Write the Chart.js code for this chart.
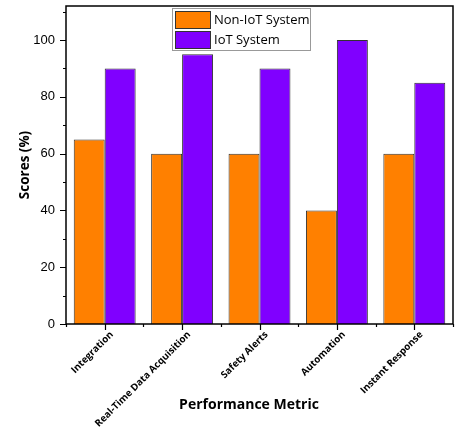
<!DOCTYPE html>
<html>
<head>
<meta charset="utf-8">
<script src="https://cdn.jsdelivr.net/npm/chart.js@4/dist/chart.umd.min.js"></script>
<style>
  html, body { margin: 0; padding: 0; background: #fff; }
  #wrap { width: 456px; height: 428px; }
</style>
</head>
<body>
<div id="wrap"><canvas id="c" width="456" height="428"></canvas></div>
<script>
/* ─── Données ─────────────────────────────────────────────────────────── */
const categories = ['Integration', 'Real-Time Data Acquisition', 'Safety Alerts', 'Automation', 'Instant Response'];
const nonIot = [65, 60, 60, 40, 60];
const iot    = [90, 95, 90, 100, 85];
const yTicks = [0, 20, 40, 60, 80, 100];
const yMinor = [10, 30, 50, 70, 90, 110];

const ORANGE = '#FF8000', PURPLE = '#8000FF';
const FONT = '"Open Sans", sans-serif';

/* ─── Cadre + graduations + légende + titre X ─────────────────────────── */
const framePlugin = {
  id: 'frame',
  afterDraw(chart) {
    const { ctx, chartArea: a, scales } = chart;
    const y = scales.y, x = scales.x;
    ctx.save();
    ctx.strokeStyle = '#000';
    ctx.lineWidth = 1.5;
    ctx.strokeRect(a.left, a.top, a.right - a.left, a.bottom - a.top);

    // y ticks (extérieur)
    ctx.lineWidth = 1.2;
    ctx.beginPath();
    yTicks.forEach(v => { const p = Math.round(y.getPixelForValue(v)) + 0.5; ctx.moveTo(a.left - 6, p); ctx.lineTo(a.left, p); });
    yMinor.forEach(v => { const p = Math.round(y.getPixelForValue(v)) + 0.5; ctx.moveTo(a.left - 3, p); ctx.lineTo(a.left, p); });
    // x ticks : centres + limites
    categories.forEach((c, i) => {
      const p = Math.round(x.getPixelForValue(i)) + 0.5;
      ctx.moveTo(p, a.bottom); ctx.lineTo(p, a.bottom + 6);
      const b = Math.round(x.getPixelForValue(i - 0.5)) + 0.5;
      ctx.moveTo(b, a.bottom); ctx.lineTo(b, a.bottom + 3);
    });
    const last = Math.round(x.getPixelForValue(categories.length - 0.5)) + 0.5;
    ctx.moveTo(last, a.bottom); ctx.lineTo(last, a.bottom + 3);
    ctx.stroke();

    // titre axe X (décalé à gauche comme l'original)
    ctx.fillStyle = '#000';
    ctx.font = 'bold 14px ' + FONT;
    ctx.textAlign = 'center';
    ctx.textBaseline = 'middle';
    ctx.fillText('Performance Metric', 249, 405);

    // légende
    const lx = 172, ly = 8, lw = 138, lh = 42;
    ctx.textAlign = 'left';
    ctx.fillStyle = '#fff';
    ctx.fillRect(lx, ly, lw, lh);
    ctx.strokeStyle = '#999';
    ctx.lineWidth = 1;
    ctx.strokeRect(lx + 0.5, ly + 0.5, lw, lh);
    ctx.font = '13px ' + FONT;
    chart.data.datasets.forEach((ds, i) => {
      const sy = ly + 3 + i * 20;
      ctx.fillStyle = ds.backgroundColor;
      ctx.fillRect(lx + 3, sy, 35, 17);
      ctx.strokeStyle = '#333';
      ctx.strokeRect(lx + 3.5, sy + 0.5, 35, 17);
      ctx.fillStyle = '#000';
      ctx.fillText(ds.label, lx + 42, sy + 9);
    });
    ctx.restore();
  }
};

new Chart(document.getElementById('c'), {
  type: 'bar',
  data: {
    labels: categories,
    datasets: [
      { label: 'Non-IoT System', data: nonIot, backgroundColor: ORANGE, borderColor: '#333', borderWidth: 1 },
      { label: 'IoT System', data: iot, backgroundColor: PURPLE, borderColor: '#333', borderWidth: 1 }
    ]
  },
  options: {
    responsive: false,
    animation: false,
    layout: { padding: { top: 6, right: 3, left: 10, bottom: 0 } },
    categoryPercentage: 0.8,
    barPercentage: 1.0,
    plugins: { legend: { display: false }, tooltip: { enabled: false } },
    scales: {
      x: {
        afterFit: s => { s.height = 104; s.paddingLeft = 0; s.paddingRight = 0; },
        grid: { display: false, drawTicks: false },
        border: { display: false },
        ticks: {
          maxRotation: 45, minRotation: 45, padding: 5, labelOffset: 7,
          color: '#000',
          font: { family: FONT, size: 9.7, weight: 'bold' }
        }
      },
      y: {
        min: 0, max: 112,
        afterBuildTicks: s => { s.ticks = yTicks.map(v => ({ value: v })); },
        afterFit: s => { s.width = 56; s.paddingTop = 0; s.paddingBottom = 0; },
        grid: { display: false, drawTicks: false },
        border: { display: false },
        ticks: {
          padding: 11, color: '#000',
          font: { family: '"Liberation Sans", Arial, sans-serif', size: 13 }
        },
        title: {
          display: true, text: 'Scores (%)', color: '#000',
          font: { family: FONT, size: 13.5, weight: 'bold' },
          padding: { top: 7, bottom: 0 }
        }
      }
    }
  },
  plugins: [framePlugin]
});
</script>
</body>
</html>
